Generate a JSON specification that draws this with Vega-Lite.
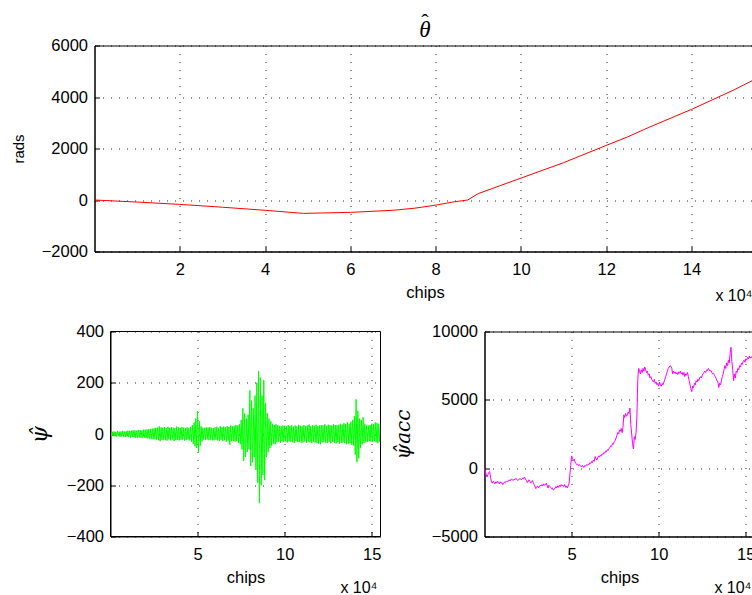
{
 "$schema": "https://vega.github.io/schema/vega-lite/v6.json",
 "background": "white",
 "padding": {"left": 10.5, "top": 9.5, "right": 0, "bottom": 0},
 "columns": 1,
 "spacing": 18,
 "config": {
  "font": "Liberation Sans",
  "view": {"stroke": "black", "strokeWidth": 1},
  "axis": {
   "labelFont": "Liberation Sans", "labelFontSize": 16.5, "labelColor": "black",
   "titleFont": "Liberation Sans", "titleFontSize": 16.5, "titleFontWeight": "normal", "titleColor": "black",
   "domainColor": "black", "domainWidth": 1, "tickColor": "black", "tickSize": -5, "tickWidth": 1,
   "grid": true, "gridColor": "black", "gridDash": [1, 7], "gridWidth": 1, "gridOpacity": 0.85,
   "labelOverlap": false, "labelFlush": false
  },
  "axisX": {"labelPadding": 15, "titlePadding": 6},
  "axisY": {"labelPadding": 12, "titleAngle": -90, "titleBaseline": "middle", "format": "d"}
 },
 "datasets": {
  "theta": [
   {"x":0,"y":0},{"x":1,"y":-80},{"x":2,"y":-170},{"x":3,"y":-280},{"x":4,"y":-400},{"x":4.9,"y":-520},{"x":6,"y":-480},{"x":7,"y":-400},{"x":7.5,"y":-320},{"x":8,"y":-200},{"x":8.4,"y":-80},{"x":8.75,"y":0},{"x":9,"y":250},{"x":9.5,"y":550},{"x":10,"y":850},{"x":11,"y":1450},{"x":12,"y":2120},{"x":12.5,"y":2450},{"x":13,"y":2820},{"x":14,"y":3520},{"x":15,"y":4280},{"x":15.5,"y":4700}
  ],
  "psi": [
   {"x":0,"y":5},{"x":0.05,"y":-8},{"x":0.1,"y":9},{"x":0.15,"y":-7},{"x":0.2,"y":10},{"x":0.25,"y":-9},{"x":0.3,"y":8},{"x":0.35,"y":-10},{"x":0.4,"y":11},{"x":0.45,"y":-8},{"x":0.5,"y":9},{"x":0.55,"y":-11},{"x":0.6,"y":10},{"x":0.65,"y":-9},{"x":0.7,"y":12},{"x":0.75,"y":-10},{"x":0.8,"y":9},{"x":0.85,"y":-12},{"x":0.9,"y":11},{"x":0.95,"y":-10},
   {"x":1,"y":13},{"x":1.05,"y":-11},{"x":1.1,"y":12},{"x":1.15,"y":-14},{"x":1.2,"y":13},{"x":1.25,"y":-12},{"x":1.3,"y":15},{"x":1.35,"y":-13},{"x":1.4,"y":14},{"x":1.45,"y":-15},{"x":1.5,"y":13},{"x":1.55,"y":-14},{"x":1.6,"y":16},{"x":1.65,"y":-13},{"x":1.7,"y":15},{"x":1.75,"y":-16},{"x":1.8,"y":14},{"x":1.85,"y":-15},{"x":1.9,"y":17},{"x":1.95,"y":-14},
   {"x":2,"y":17},{"x":2.05,"y":-16},{"x":2.1,"y":18},{"x":2.15,"y":-17},{"x":2.2,"y":19},{"x":2.25,"y":-18},{"x":2.3,"y":20},{"x":2.35,"y":-19},{"x":2.4,"y":21},{"x":2.45,"y":-20},{"x":2.5,"y":22},{"x":2.55,"y":-21},{"x":2.6,"y":24},{"x":2.65,"y":-22},{"x":2.7,"y":25},{"x":2.75,"y":-24},{"x":2.8,"y":30},{"x":2.85,"y":-28},{"x":2.9,"y":26},{"x":2.95,"y":-23},
   {"x":3,"y":25},{"x":3.05,"y":-22},{"x":3.1,"y":27},{"x":3.15,"y":-24},{"x":3.2,"y":23},{"x":3.25,"y":-26},{"x":3.3,"y":28},{"x":3.35,"y":-21},{"x":3.4,"y":24},{"x":3.45,"y":-25},{"x":3.5,"y":27},{"x":3.55,"y":-22},{"x":3.6,"y":25},{"x":3.65,"y":-27},{"x":3.7,"y":23},{"x":3.75,"y":-24},{"x":3.8,"y":29},{"x":3.85,"y":-23},{"x":3.9,"y":26},{"x":3.95,"y":-25},
   {"x":4,"y":24},{"x":4.05,"y":-23},{"x":4.1,"y":27},{"x":4.15,"y":-22},{"x":4.2,"y":25},{"x":4.25,"y":-26},{"x":4.3,"y":22},{"x":4.35,"y":-24},{"x":4.4,"y":26},{"x":4.45,"y":-21},{"x":4.5,"y":24},{"x":4.55,"y":-25},{"x":4.6,"y":28},{"x":4.65,"y":-30},{"x":4.7,"y":35},{"x":4.75,"y":-38},{"x":4.8,"y":45},{"x":4.85,"y":-48},{"x":4.9,"y":60},{"x":4.95,"y":-55},
   {"x":5,"y":90},{"x":5.05,"y":-72},{"x":5.1,"y":50},{"x":5.15,"y":-45},{"x":5.2,"y":30},{"x":5.25,"y":-28},{"x":5.3,"y":25},{"x":5.35,"y":-22},{"x":5.4,"y":24},{"x":5.45,"y":-23},{"x":5.5,"y":26},{"x":5.55,"y":-21},{"x":5.6,"y":25},{"x":5.65,"y":-24},{"x":5.7,"y":27},{"x":5.75,"y":-22},{"x":5.8,"y":24},{"x":5.85,"y":-25},{"x":5.9,"y":23},{"x":5.95,"y":-24},
   {"x":6,"y":26},{"x":6.05,"y":-22},{"x":6.1,"y":28},{"x":6.15,"y":-25},{"x":6.2,"y":24},{"x":6.25,"y":-27},{"x":6.3,"y":30},{"x":6.35,"y":-23},{"x":6.4,"y":26},{"x":6.45,"y":-28},{"x":6.5,"y":29},{"x":6.55,"y":-24},{"x":6.6,"y":27},{"x":6.65,"y":-30},{"x":6.7,"y":31},{"x":6.75,"y":-26},{"x":6.8,"y":28},{"x":6.85,"y":-42},{"x":6.9,"y":33},{"x":6.95,"y":-28},
   {"x":7,"y":30},{"x":7.05,"y":-27},{"x":7.1,"y":32},{"x":7.15,"y":-30},{"x":7.2,"y":35},{"x":7.25,"y":-28},{"x":7.3,"y":33},{"x":7.35,"y":-35},{"x":7.4,"y":38},{"x":7.45,"y":-40},{"x":7.5,"y":55},{"x":7.55,"y":-60},{"x":7.6,"y":100},{"x":7.65,"y":-105},{"x":7.7,"y":80},{"x":7.75,"y":-90},{"x":7.8,"y":60},{"x":7.85,"y":-70},{"x":7.9,"y":75},{"x":7.95,"y":-60},
   {"x":8,"y":170},{"x":8.05,"y":-125},{"x":8.1,"y":130},{"x":8.15,"y":-110},{"x":8.2,"y":100},{"x":8.25,"y":-90},{"x":8.3,"y":150},{"x":8.35,"y":-140},{"x":8.4,"y":200},{"x":8.45,"y":-190},{"x":8.5,"y":245},{"x":8.55,"y":-270},{"x":8.6,"y":220},{"x":8.65,"y":-200},{"x":8.7,"y":150},{"x":8.75,"y":-160},{"x":8.8,"y":210},{"x":8.85,"y":-180},{"x":8.9,"y":120},{"x":8.95,"y":-90},
   {"x":9,"y":80},{"x":9.05,"y":-70},{"x":9.1,"y":60},{"x":9.15,"y":-55},{"x":9.2,"y":50},{"x":9.25,"y":-45},{"x":9.3,"y":40},{"x":9.35,"y":-38},{"x":9.4,"y":35},{"x":9.45,"y":-40},{"x":9.5,"y":38},{"x":9.55,"y":-32},{"x":9.6,"y":34},{"x":9.65,"y":-30},{"x":9.7,"y":32},{"x":9.75,"y":-35},{"x":9.8,"y":30},{"x":9.85,"y":-28},{"x":9.9,"y":33},{"x":9.95,"y":-30},
   {"x":10,"y":32},{"x":10.05,"y":-28},{"x":10.1,"y":30},{"x":10.15,"y":-33},{"x":10.2,"y":35},{"x":10.25,"y":-29},{"x":10.3,"y":31},{"x":10.35,"y":-30},{"x":10.4,"y":34},{"x":10.45,"y":-32},{"x":10.5,"y":29},{"x":10.55,"y":-35},{"x":10.6,"y":33},{"x":10.65,"y":-28},{"x":10.7,"y":30},{"x":10.75,"y":-31},{"x":10.8,"y":36},{"x":10.85,"y":-30},{"x":10.9,"y":32},{"x":10.95,"y":-34},
   {"x":11,"y":30},{"x":11.05,"y":-33},{"x":11.1,"y":35},{"x":11.15,"y":-29},{"x":11.2,"y":31},{"x":11.25,"y":-34},{"x":11.3,"y":33},{"x":11.35,"y":-30},{"x":11.4,"y":37},{"x":11.45,"y":-32},{"x":11.5,"y":30},{"x":11.55,"y":-36},{"x":11.6,"y":34},{"x":11.65,"y":-31},{"x":11.7,"y":32},{"x":11.75,"y":-33},{"x":11.8,"y":36},{"x":11.85,"y":-35},{"x":11.9,"y":31},{"x":11.95,"y":-38},
   {"x":12,"y":33},{"x":12.05,"y":-40},{"x":12.1,"y":35},{"x":12.15,"y":-32},{"x":12.2,"y":34},{"x":12.25,"y":-30},{"x":12.3,"y":38},{"x":12.35,"y":-33},{"x":12.4,"y":32},{"x":12.45,"y":-35},{"x":12.5,"y":36},{"x":12.55,"y":-31},{"x":12.6,"y":34},{"x":12.65,"y":-36},{"x":12.7,"y":33},{"x":12.75,"y":-30},{"x":12.8,"y":38},{"x":12.85,"y":-34},{"x":12.9,"y":35},{"x":12.95,"y":-37},
   {"x":13,"y":34},{"x":13.05,"y":-32},{"x":13.1,"y":36},{"x":13.15,"y":-38},{"x":13.2,"y":40},{"x":13.25,"y":-35},{"x":13.3,"y":37},{"x":13.35,"y":-33},{"x":13.4,"y":42},{"x":13.45,"y":-36},{"x":13.5,"y":38},{"x":13.55,"y":-40},{"x":13.6,"y":45},{"x":13.65,"y":-38},{"x":13.7,"y":40},{"x":13.75,"y":-35},{"x":13.8,"y":48},{"x":13.85,"y":-42},{"x":13.9,"y":55},{"x":13.95,"y":-45},
   {"x":14,"y":70},{"x":14.05,"y":-80},{"x":14.1,"y":135},{"x":14.15,"y":-110},{"x":14.2,"y":90},{"x":14.25,"y":-95},{"x":14.3,"y":60},{"x":14.35,"y":-55},{"x":14.4,"y":55},{"x":14.45,"y":-40},{"x":14.5,"y":65},{"x":14.55,"y":-35},{"x":14.6,"y":40},{"x":14.65,"y":-32},{"x":14.7,"y":35},{"x":14.75,"y":-30},{"x":14.8,"y":33},{"x":14.85,"y":-28},{"x":14.9,"y":35},{"x":14.95,"y":-30},
   {"x":15,"y":40},{"x":15.05,"y":-30},{"x":15.1,"y":38},{"x":15.15,"y":-28},{"x":15.2,"y":45},{"x":15.25,"y":-32},{"x":15.3,"y":42},{"x":15.35,"y":-35},{"x":15.4,"y":40},{"x":15.45,"y":-30},{"x":15.5,"y":35}
  ],
  "acc": [
   {"x":0,"y":0},{"x":0.05,"y":-250},{"x":0.1,"y":-500},{"x":0.15,"y":-650},{"x":0.2,"y":-450},{"x":0.25,"y":-300},{"x":0.3,"y":-250},{"x":0.35,"y":-700},{"x":0.4,"y":-1000},{"x":0.45,"y":-1100},{"x":0.5,"y":-950},{"x":0.55,"y":-1050},{"x":0.6,"y":-1150},{"x":0.65,"y":-1000},{"x":0.7,"y":-1100},{"x":0.75,"y":-950},{"x":0.8,"y":-1050},{"x":0.85,"y":-1150},{"x":0.9,"y":-1000},{"x":0.95,"y":-1100},
   {"x":1,"y":-1050},{"x":1.05,"y":-1200},{"x":1.1,"y":-1100},{"x":1.15,"y":-1000},{"x":1.2,"y":-1050},{"x":1.25,"y":-950},{"x":1.3,"y":-1000},{"x":1.35,"y":-900},{"x":1.4,"y":-950},{"x":1.45,"y":-850},{"x":1.5,"y":-900},{"x":1.55,"y":-800},{"x":1.6,"y":-850},{"x":1.65,"y":-900},{"x":1.7,"y":-800},{"x":1.75,"y":-850},{"x":1.8,"y":-750},{"x":1.85,"y":-800},{"x":1.9,"y":-900},{"x":1.95,"y":-850},
   {"x":2,"y":-800},{"x":2.05,"y":-750},{"x":2.1,"y":-850},{"x":2.15,"y":-800},{"x":2.2,"y":-700},{"x":2.25,"y":-750},{"x":2.3,"y":-650},{"x":2.35,"y":-800},{"x":2.4,"y":-900},{"x":2.45,"y":-1050},{"x":2.5,"y":-1000},{"x":2.55,"y":-850},{"x":2.6,"y":-950},{"x":2.65,"y":-1100},{"x":2.7,"y":-1000},{"x":2.75,"y":-900},{"x":2.8,"y":-1050},{"x":2.85,"y":-1200},{"x":2.9,"y":-1350},{"x":2.95,"y":-1500},
   {"x":3,"y":-1400},{"x":3.05,"y":-1300},{"x":3.1,"y":-1450},{"x":3.15,"y":-1350},{"x":3.2,"y":-1250},{"x":3.25,"y":-1300},{"x":3.3,"y":-1200},{"x":3.35,"y":-1300},{"x":3.4,"y":-1150},{"x":3.45,"y":-1250},{"x":3.5,"y":-1200},{"x":3.55,"y":-1100},{"x":3.6,"y":-1300},{"x":3.65,"y":-1450},{"x":3.7,"y":-1250},{"x":3.75,"y":-1350},{"x":3.8,"y":-1400},{"x":3.85,"y":-1500},{"x":3.9,"y":-1450},{"x":3.95,"y":-1600},
   {"x":4,"y":-1550},{"x":4.05,"y":-1450},{"x":4.1,"y":-1350},{"x":4.15,"y":-1450},{"x":4.2,"y":-1300},{"x":4.25,"y":-1400},{"x":4.3,"y":-1250},{"x":4.35,"y":-1350},{"x":4.4,"y":-1200},{"x":4.45,"y":-1300},{"x":4.5,"y":-1250},{"x":4.55,"y":-1350},{"x":4.6,"y":-1200},{"x":4.65,"y":-1400},{"x":4.7,"y":-1300},{"x":4.75,"y":-1450},{"x":4.8,"y":-1300},{"x":4.85,"y":-1150},{"x":4.9,"y":-500},{"x":4.95,"y":200},
   {"x":5,"y":900},{"x":5.05,"y":700},{"x":5.1,"y":550},{"x":5.15,"y":650},{"x":5.2,"y":450},{"x":5.25,"y":350},{"x":5.3,"y":250},{"x":5.35,"y":300},{"x":5.4,"y":150},{"x":5.45,"y":250},{"x":5.5,"y":200},{"x":5.55,"y":100},{"x":5.6,"y":200},{"x":5.65,"y":150},{"x":5.7,"y":50},{"x":5.75,"y":200},{"x":5.8,"y":150},{"x":5.85,"y":250},{"x":5.9,"y":200},{"x":5.95,"y":300},
   {"x":6,"y":250},{"x":6.05,"y":400},{"x":6.1,"y":350},{"x":6.15,"y":500},{"x":6.2,"y":400},{"x":6.25,"y":600},{"x":6.3,"y":500},{"x":6.35,"y":850},{"x":6.4,"y":700},{"x":6.45,"y":600},{"x":6.5,"y":750},{"x":6.55,"y":900},{"x":6.6,"y":800},{"x":6.65,"y":950},{"x":6.7,"y":900},{"x":6.75,"y":1050},{"x":6.8,"y":1000},{"x":6.85,"y":1150},{"x":6.9,"y":1100},{"x":6.95,"y":1250},
   {"x":7,"y":1200},{"x":7.05,"y":1350},{"x":7.1,"y":1300},{"x":7.15,"y":1450},{"x":7.2,"y":1500},{"x":7.25,"y":1650},{"x":7.3,"y":1600},{"x":7.35,"y":1800},{"x":7.4,"y":1750},{"x":7.45,"y":1950},{"x":7.5,"y":2000},{"x":7.55,"y":2200},{"x":7.6,"y":2400},{"x":7.65,"y":2600},{"x":7.7,"y":2500},{"x":7.75,"y":2800},{"x":7.8,"y":2700},{"x":7.85,"y":2900},{"x":7.9,"y":2600},{"x":7.95,"y":3000},
   {"x":8,"y":3900},{"x":8.05,"y":3700},{"x":8.1,"y":4000},{"x":8.15,"y":3800},{"x":8.2,"y":3900},{"x":8.25,"y":4100},{"x":8.3,"y":4000},{"x":8.35,"y":4400},{"x":8.4,"y":3200},{"x":8.45,"y":2500},{"x":8.5,"y":1800},{"x":8.55,"y":1400},{"x":8.6,"y":2300},{"x":8.65,"y":2100},{"x":8.7,"y":2600},{"x":8.75,"y":3800},{"x":8.8,"y":6500},{"x":8.85,"y":7300},{"x":8.9,"y":7100},{"x":8.95,"y":6900},
   {"x":9,"y":7200},{"x":9.05,"y":7000},{"x":9.1,"y":7300},{"x":9.15,"y":7100},{"x":9.2,"y":7400},{"x":9.25,"y":7200},{"x":9.3,"y":7000},{"x":9.35,"y":7100},{"x":9.4,"y":6800},{"x":9.45,"y":6900},{"x":9.5,"y":6600},{"x":9.55,"y":6700},{"x":9.6,"y":6500},{"x":9.65,"y":6400},{"x":9.7,"y":6300},{"x":9.75,"y":6500},{"x":9.8,"y":6200},{"x":9.85,"y":6300},{"x":9.9,"y":6100},{"x":9.95,"y":6200},
   {"x":10,"y":6000},{"x":10.05,"y":6300},{"x":10.1,"y":6100},{"x":10.15,"y":6000},{"x":10.2,"y":6200},{"x":10.25,"y":6100},{"x":10.3,"y":6300},{"x":10.35,"y":6500},{"x":10.4,"y":6700},{"x":10.45,"y":6900},{"x":10.5,"y":7100},{"x":10.55,"y":7300},{"x":10.6,"y":7400},{"x":10.65,"y":7500},{"x":10.7,"y":7450},{"x":10.75,"y":7300},{"x":10.8,"y":6900},{"x":10.85,"y":7100},{"x":10.9,"y":6950},{"x":10.95,"y":7050},
   {"x":11,"y":6900},{"x":11.05,"y":7000},{"x":11.1,"y":6850},{"x":11.15,"y":7050},{"x":11.2,"y":6950},{"x":11.25,"y":7100},{"x":11.3,"y":6900},{"x":11.35,"y":7000},{"x":11.4,"y":6800},{"x":11.45,"y":7000},{"x":11.5,"y":6700},{"x":11.55,"y":6900},{"x":11.6,"y":6800},{"x":11.65,"y":7000},{"x":11.7,"y":6700},{"x":11.75,"y":6400},{"x":11.8,"y":6100},{"x":11.85,"y":5800},{"x":11.9,"y":5600},{"x":11.95,"y":6000},
   {"x":12,"y":5900},{"x":12.05,"y":6200},{"x":12.1,"y":6100},{"x":12.15,"y":6400},{"x":12.2,"y":6300},{"x":12.25,"y":6500},{"x":12.3,"y":6400},{"x":12.35,"y":6600},{"x":12.4,"y":6700},{"x":12.45,"y":6600},{"x":12.5,"y":6800},{"x":12.55,"y":6900},{"x":12.6,"y":7000},{"x":12.65,"y":7100},{"x":12.7,"y":7000},{"x":12.75,"y":7200},{"x":12.8,"y":7150},{"x":12.85,"y":7300},{"x":12.9,"y":7200},{"x":12.95,"y":7100},
   {"x":13,"y":7150},{"x":13.05,"y":7000},{"x":13.1,"y":6900},{"x":13.15,"y":6950},{"x":13.2,"y":6800},{"x":13.25,"y":6700},{"x":13.3,"y":6550},{"x":13.35,"y":6400},{"x":13.4,"y":6300},{"x":13.45,"y":5900},{"x":13.5,"y":6200},{"x":13.55,"y":6100},{"x":13.6,"y":6400},{"x":13.65,"y":6700},{"x":13.7,"y":6900},{"x":13.75,"y":7200},{"x":13.8,"y":7500},{"x":13.85,"y":7300},{"x":13.9,"y":7700},{"x":13.95,"y":7500},
   {"x":14,"y":7900},{"x":14.05,"y":7700},{"x":14.1,"y":8400},{"x":14.15,"y":8850},{"x":14.2,"y":7800},{"x":14.25,"y":7200},{"x":14.3,"y":6400},{"x":14.35,"y":6900},{"x":14.4,"y":6600},{"x":14.45,"y":7100},{"x":14.5,"y":7000},{"x":14.55,"y":7300},{"x":14.6,"y":7200},{"x":14.65,"y":7500},{"x":14.7,"y":7400},{"x":14.75,"y":7700},{"x":14.8,"y":7600},{"x":14.85,"y":7800},{"x":14.9,"y":7900},{"x":14.95,"y":7750},
   {"x":15,"y":8000},{"x":15.05,"y":7900},{"x":15.1,"y":8100},{"x":15.15,"y":8000},{"x":15.2,"y":8200},{"x":15.25,"y":8050},{"x":15.3,"y":8150},{"x":15.35,"y":8100},{"x":15.4,"y":8250},{"x":15.45,"y":8150},{"x":15.5,"y":8200}
  ]
 },
 "concat": [
  {
   "width": 661, "height": 206,
   "title": {"text": "ˆ", "font": "Liberation Serif", "fontSize": 22, "fontWeight": "normal", "color": "black", "anchor": "middle", "offset": -5,
             "subtitle": "θ", "subtitleFont": "Liberation Serif", "subtitleFontStyle": "italic", "subtitleFontSize": 23, "subtitleColor": "black", "subtitlePadding": -15},
   "layer": [
    {"data": {"name": "theta"}, "mark": {"type": "line", "color": "#ff0000", "strokeWidth": 1},
     "encoding": {
      "x": {"field": "x", "type": "quantitative", "scale": {"domain": [0, 15.5], "nice": false, "zero": false}, "axis": {"values": [2,4,6,8,10,12,14], "title": "chips"}},
      "y": {"field": "y", "type": "quantitative", "scale": {"domain": [-2000, 6000], "nice": false}, "axis": {"values": [-2000,0,2000,4000,6000], "title": "rads", "titleX": -76, "titleFontSize": 15}}
     }},
    {"data": {"values": [{"t": "x 10⁴"}]}, "mark": {"type": "text", "align": "right", "baseline": "middle", "dy": 44, "dx": -3, "fontSize": 16, "font": "Liberation Sans", "color": "black"},
     "encoding": {"x": {"datum": 15.5}, "y": {"datum": -2000}, "text": {"field": "t"}}}
   ]
  },
  {
   "spacing": 10,
   "hconcat": [
    {
     "width": 286, "height": 205,
     "view": {"stroke": null},
     "layer": [
      {"data": {"name": "psi"}, "mark": {"type": "line", "color": "#00ff00", "strokeWidth": 1},
       "encoding": {
        "x": {"field": "x", "type": "quantitative", "scale": {"domain": [0, 15.5], "range": [16, 286], "nice": false, "zero": false}, "axis": {"values": [5,10,15], "title": "chips"}},
        "y": {"field": "y", "type": "quantitative", "scale": {"domain": [-400, 400], "nice": false}, "axis": {"values": [-400,-200,0,200,400], "title": "ψ̂", "titleFont": "DejaVu Serif", "titleFontStyle": "italic", "titleFontSize": 22, "titleX": -71, "offset": -16}}
       }},
      {"data": {"values": [{"frame": 1}]}, "mark": {"type": "rect", "fill": "transparent", "stroke": "black", "strokeWidth": 1},
       "encoding": {"x": {"datum": 0}, "x2": {"datum": 15.5}, "y": {"datum": -400}, "y2": {"datum": 400}}},
      {"data": {"values": [{"t": "x 10⁴"}]}, "mark": {"type": "text", "align": "right", "baseline": "middle", "dy": 51, "dx": -3, "fontSize": 16, "font": "Liberation Sans", "color": "black"},
       "encoding": {"x": {"datum": 15.5}, "y": {"datum": -400}, "text": {"field": "t"}}}
     ]
    },
    {
     "width": 270, "height": 205,
     "layer": [
      {"data": {"name": "acc"}, "mark": {"type": "line", "color": "#ff00ff", "strokeWidth": 1},
       "encoding": {
        "x": {"field": "x", "type": "quantitative", "scale": {"domain": [0, 15.5], "nice": false, "zero": false}, "axis": {"values": [5,10,15], "title": "chips"}},
        "y": {"field": "y", "type": "quantitative", "scale": {"domain": [-5000, 10000], "nice": false}, "axis": {"values": [-5000,0,5000,10000], "title": "ψ̂acc", "titleFont": "DejaVu Serif", "titleFontStyle": "italic", "titleFontSize": 20, "titleX": -81, "minExtent": 88}}
       }},
      {"data": {"values": [{"t": "x 10⁴"}]}, "mark": {"type": "text", "align": "right", "baseline": "middle", "dy": 51, "dx": -3, "fontSize": 16, "font": "Liberation Sans", "color": "black"},
       "encoding": {"x": {"datum": 15.5}, "y": {"datum": -5000}, "text": {"field": "t"}}}
     ]
    }
   ]
  }
 ]
}
